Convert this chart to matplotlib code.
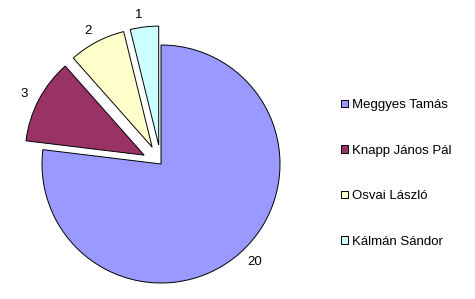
import matplotlib
matplotlib.use("Agg")
import matplotlib.pyplot as plt
from matplotlib.patches import Patch

plt.rcParams['font.family'] = ['Liberation Sans', 'DejaVu Sans']

names = ["Meggyes Tamás", "Knapp János Pál", "Osvai László", "Kálmán Sándor"]
values = [20, 3, 2, 1]
colors = ["#9999FF", "#993366", "#FFFFCC", "#CCFFFF"]
explode = [0, 0.16, 0.16, 0.16]

W, H = 475, 299
fig = plt.figure(figsize=(W / 100, H / 100), dpi=100)
fig.patch.set_facecolor("white")

# axes region in pixels: x 0..320, y 0..299
ax = fig.add_axes([0, 0, 320 / W, 1])
cx, cy, r = 161, 164, 119
wedges, texts = ax.pie(values, colors=colors, explode=explode, startangle=90,
                       counterclock=False, labels=[str(v) for v in values],
                       labeldistance=1.1,
                       wedgeprops=dict(edgecolor="black", linewidth=0.7),
                       textprops=dict(fontsize=9.5, color="black"))
ax.set_xlim(-cx / r, (320 - cx) / r)
ax.set_ylim(-(H - cy) / r, cy / r)
ax.set_aspect('equal', adjustable='datalim')
ax.axis('off')

handles = [Patch(facecolor=c, edgecolor="black", linewidth=0.7) for c in colors]
fig.legend(handles, names, loc="upper left", bbox_to_anchor=(341 / W, 1 - 99 / H),
           frameon=False, fontsize=9.5, handlelength=0.5, handleheight=0.5,
           handletextpad=0.35, labelspacing=2.55, borderpad=0, borderaxespad=0)

fig.savefig("out.png", dpi=100, facecolor="white")
